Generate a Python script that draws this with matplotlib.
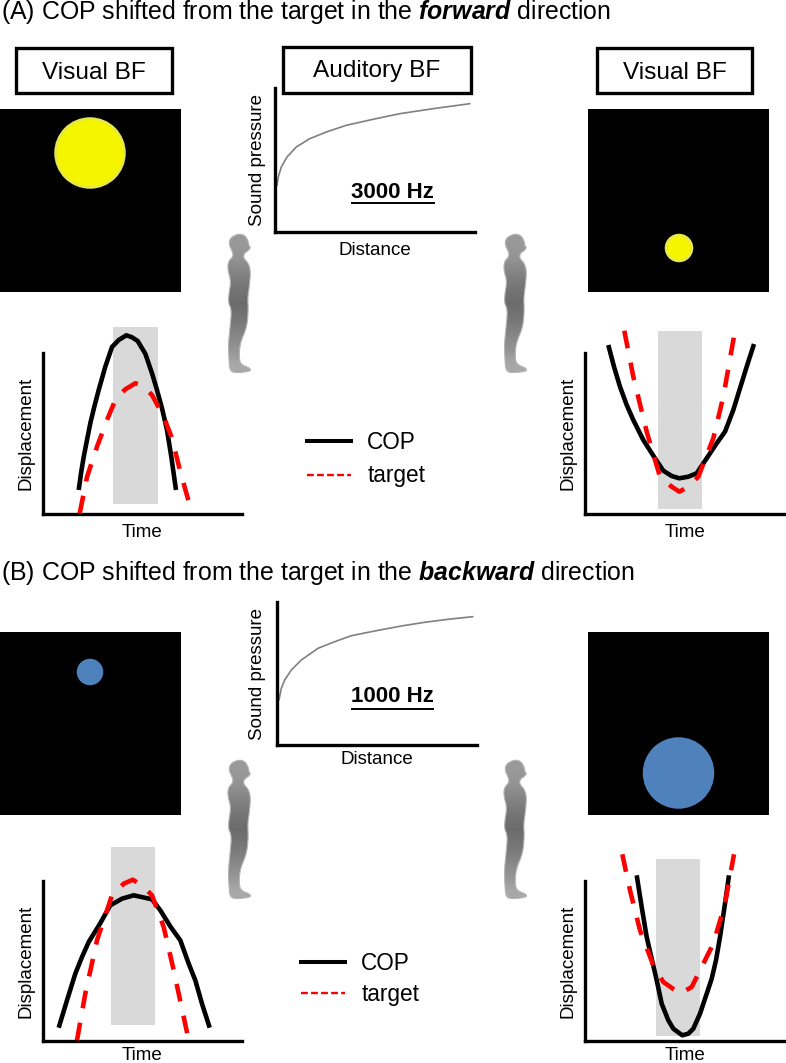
import numpy as np
import matplotlib
matplotlib.use('Agg')
import matplotlib.pyplot as plt
from matplotlib.lines import Line2D
from matplotlib.patches import Circle, PathPatch, Rectangle
from matplotlib.path import Path

plt.rcParams['font.family'] = ['Liberation Sans', 'DejaVu Sans']
plt.rcParams['mathtext.fontset'] = 'custom'
plt.rcParams['mathtext.rm'] = 'Liberation Sans'
plt.rcParams['mathtext.bfit'] = 'Liberation Sans:italic:bold'

W, H = 786, 1063

# displacement panels, values (x = time, y = displacement)
a_left_cop_x = [35.7, 38, 40.7, 44, 47.3, 51.3, 55.7, 62.3, 69, 75.7, 83.3, 89, 94.7, 102.3, 109, 114, 119, 124, 128.3, 133]
a_left_cop_y = [24, 40.7, 57, 74, 90.7, 107.3, 124, 147.3, 167, 174, 178.7, 176.7, 173, 160.3, 140.7, 124, 105.7, 84, 57.3, 24]
a_left_tgt_x = [36.7, 44, 54, 64.7, 72.3, 82.3, 92.3, 99, 109, 120.7, 129, 137.3, 146.7]
a_left_tgt_y = [0.7, 37, 67.3, 95.7, 114, 124.7, 130.7, 129, 119, 97.3, 75.7, 42.3, 9]
a_left_win = [70.3, 114.7, 9.7, 187.3]

a_right_cop_x = [23.3, 29, 35, 41.7, 48.3, 58.3, 70, 78.3, 86.7, 94.3, 103.3, 111.7, 121.7, 131.7, 140, 148.3, 155, 161.7, 169]
a_right_cop_y = [169, 147.3, 127.3, 109, 94, 74, 55.7, 43.3, 38, 35.7, 37.3, 40.7, 55.7, 70.7, 82.3, 104, 125.7, 147.3, 170]
a_right_tgt_x = [39.3, 48.3, 61.7, 75, 86.7, 94.3, 103.3, 113.3, 128.3, 138.3, 150]
a_right_tgt_y = [183.3, 137.3, 82.3, 37.3, 27.3, 22.3, 27.3, 37.3, 75.7, 117.3, 183.3]
a_right_win = [73, 117.3, 5.3, 183.3]

b_left_cop_x = [15.7, 24, 32.3, 39, 45.7, 57, 67.3, 79, 90.7, 109, 117.3, 127.7, 137.3, 145.7, 152.3, 159, 166.7]
b_left_cop_y = [13.3, 40.7, 67.3, 84, 99, 117.3, 135.7, 142.3, 145.7, 141.7, 130.7, 114, 100.7, 77.3, 60.7, 37.3, 13.3]
b_left_tgt_x = [34, 42.3, 54, 69, 80.7, 89.7, 99, 109, 120.7, 130.7, 145.7]
b_left_tgt_y = [0.7, 47.3, 100.7, 145.7, 157.3, 161.3, 155.7, 145.7, 114, 70.7, 0.7]
b_left_win = [67.7, 112, 16.3, 193.7]

b_right_cop_x = [51.7, 56.7, 61.7, 66.7, 71.7, 76.7, 83.3, 88.3, 97.3, 103.3, 108.3, 115, 121.7, 126.7, 131, 135, 140, 144]
b_right_cop_y = [165.7, 134, 104, 82.3, 60.7, 37.3, 20.7, 12.3, 5.7, 7.3, 12.3, 27.3, 47.3, 62.3, 80.7, 104, 137.3, 165.7]
b_right_tgt_x = [37.3, 45, 55, 68.3, 78.3, 95, 106.7, 118.3, 128.3, 140, 149]
b_right_tgt_y = [186.7, 150.7, 110.7, 75.7, 59, 47.3, 54, 77.3, 97.3, 137.3, 186.7]
b_right_win = [71, 115.3, 4.7, 182.3]

# sound pressure against distance
aud_a_x = [2, 3.3, 6.3, 12, 21.3, 34.7, 51.3, 71.3, 98, 124.7, 158, 194.7]
aud_a_y = [46.7, 55, 65, 75, 85, 93.3, 100, 106.7, 112.7, 118.3, 123.3, 128.3]
aud_b_x = [2, 4.3, 7.7, 14.3, 24.3, 41, 57.7, 74.3, 97.7, 124.3, 147.7, 171, 195.7]
aud_b_y = [45, 56.7, 65, 75, 85, 96.7, 103.3, 109.3, 114, 119, 122.7, 125.7, 128.3]

# silhouette outline
body_x = [70, 90, 100, 102, 107, 100, 88, 85, 100, 107, 103, 98, 100, 95, 75, 72, 78, 105,
          108, 60, 45, 42, 40, 45, 50, 40, 42, 48, 38, 40, 55, 52, 42, 45]
body_y = [17, 22, 40, 55, 58, 68, 75, 90, 105, 130, 175, 210, 250, 300, 345, 390, 410, 420,
          430, 435, 428, 400, 350, 300, 245, 225, 195, 160, 125, 100, 85, 70, 50, 30]

fig = plt.figure(figsize=(W / 100, H / 100), dpi=100)


def px_axes(left, top, right, bottom):
    # axes placed by picture pixels, data unit = one pixel
    ax = fig.add_axes([left / W, 1 - bottom / H, (right - left) / W, (bottom - top) / H])
    ax.set_xlim(0, right - left)
    ax.set_ylim(0, bottom - top)
    ax.set_xticks([])
    ax.set_yticks([])
    return ax


def l_frame(ax):
    ax.patch.set_alpha(0)
    ax.spines['top'].set_visible(False)
    ax.spines['right'].set_visible(False)
    ax.spines['left'].set_linewidth(2.4)
    ax.spines['bottom'].set_linewidth(2.4)


def disp_panel(left, top, right, bottom, cop_x, cop_y, tgt_x, tgt_y, win, time_pad=7):
    ax = px_axes(left, top, right, bottom)
    l_frame(ax)
    ax.fill_between(win[:2], win[2], win[3], color='#d9d9d9', lw=0, clip_on=False, zorder=1)
    ax.plot(cop_x, cop_y, color='black', lw=3.3, clip_on=False, zorder=2, solid_capstyle='butt',
            solid_joinstyle='round')
    ax.plot(tgt_x, tgt_y, color='#ff0000', lw=3.3, dashes=(3.9, 3.2), clip_on=False, zorder=3,
            dash_capstyle='butt', dash_joinstyle='round')
    ax.set_xlabel('Time', fontsize=13.5, labelpad=time_pad)
    ax.set_ylabel('Displacement', fontsize=13.5, labelpad=6)
    return ax


def aud_panel(left, top, right, bottom, x, y, freq, text_y, line_x, line_y, pad_x, pad_y):
    ax = px_axes(left, top, right, bottom)
    l_frame(ax)
    ax.plot(x, y, color='#808080', lw=1.2, clip_on=False)
    ax.set_xlabel('Distance', fontsize=13.5, labelpad=pad_x)
    ax.set_ylabel('Sound pressure', fontsize=13.5, labelpad=pad_y)
    ax.text(sum(line_x) / 2, text_y, freq, fontsize=16, fontweight='bold', ha='center', va='center')
    ax.plot(line_x, [line_y, line_y], color='black', lw=1.4)
    return ax


def stim_panel(left, top, right, bottom, cx, cy, r, face, edge):
    ax = px_axes(left, top, right, bottom)
    ax.set_facecolor('black')
    for s in ax.spines.values():
        s.set_visible(False)
    ax.add_patch(Circle((cx, cy), r, facecolor=face, edgecolor=edge, lw=1.8))
    return ax


def title_box(left, top, right, bottom, label, baseline):
    fig.add_artist(Rectangle((left / W, 1 - bottom / H), (right - left) / W, (bottom - top) / H,
                             transform=fig.transFigure, facecolor='white', edgecolor='black', lw=2.4))
    fig.text((left + right) / 2 / W, 1 - baseline / H, label, fontsize=17.6,
             ha='center', va='baseline')


def rounded(verts, passes=3):
    # corner cutting so the outline is not so jagged
    for i in range(passes):
        nxt = np.roll(verts, -1, axis=0)
        verts = np.column_stack([0.75 * verts + 0.25 * nxt, 0.25 * verts + 0.75 * nxt]).reshape(-1, 2)
    return verts


def person(dx, dy):
    # gradient body, zoomed outline coords scaled back to pixels
    x = 215 + np.array(body_x) / 3 + dx
    y = 228 + np.array(body_y) / 3 + dy
    left, right, top, bottom = x.min(), x.max(), y.min(), y.max()
    ax = px_axes(left, top, right, bottom)
    ax.axis('off')
    shade = np.array([0.6, 0.58, 0.52, 0.46, 0.42, 0.46, 0.52, 0.58, 0.66])[:, None]
    im = ax.imshow(shade, cmap='gray', vmin=0, vmax=1, aspect='auto', interpolation='bilinear',
                   extent=[0, right - left, 0, bottom - top])
    verts = rounded(np.column_stack([x - left, bottom - y]))
    patch = PathPatch(Path(np.vstack([verts, verts[:1]]), closed=True), transform=ax.transData,
                      facecolor='none', edgecolor='#b5b5b5', lw=0.8, clip_on=False)
    ax.add_patch(patch)
    im.set_clip_path(patch)


fig.text(1 / W, 1 - 19 / H, r'(A) COP shifted from the target in the $\mathbfit{forward}$ direction',
         fontsize=17.9, va='baseline')
fig.text(1 / W, 1 - 580 / H, r'(B) COP shifted from the target in the $\mathbfit{backward}$ direction',
         fontsize=17.9, va='baseline')

title_box(16, 48, 172, 93, 'Visual BF', 79)
title_box(283, 47, 471, 93, 'Auditory BF', 77)
title_box(597, 48, 752, 93, 'Visual BF', 79)

stim_panel(0, 109, 181, 292, 90, 139, 34.5, '#f5f500', '#e6e650')
stim_panel(588, 109, 769, 292, 91, 44, 13, '#f5f500', '#e6e650')
stim_panel(0, 632, 181, 815, 90, 143, 12, '#4f81bd', '#4f81bd')
stim_panel(588, 632, 769, 815, 90.5, 42, 34.5, '#4f81bd', '#4f81bd')

aud_panel(275, 88, 475, 232, aud_a_x, aud_a_y, '3000 Hz', 39.5, [76.7, 159], 29.3, 7, 6.5)
aud_panel(277, 602, 477, 745, aud_b_x, aud_b_y, '1000 Hz', 48, [75, 156], 36, 4, 8)

disp_panel(43, 353, 242, 514, a_left_cop_x, a_left_cop_y, a_left_tgt_x, a_left_tgt_y, a_left_win)
disp_panel(585, 353, 785, 514, a_right_cop_x, a_right_cop_y, a_right_tgt_x, a_right_tgt_y, a_right_win)
disp_panel(43, 881, 242, 1041, b_left_cop_x, b_left_cop_y, b_left_tgt_x, b_left_tgt_y, b_left_win, time_pad=4.5)
disp_panel(585, 881, 785, 1041, b_right_cop_x, b_right_cop_y, b_right_tgt_x, b_right_tgt_y, b_right_win, time_pad=4.5)

person(0, 0)
person(276, 0)
person(0, 526)
person(276, 526)

handles = [Line2D([], [], color='black', lw=2.9),
           Line2D([], [], color='#ff0000', lw=1.7, dashes=(2.9, 1.35))]
for lx, ly, gap in [(300, 424, 0.47), (294, 945, 0.35)]:
    fig.legend(handles, ['COP', 'target'], loc='upper left', bbox_to_anchor=(lx / W, 1 - ly / H),
               frameon=False, fontsize=16.3, handlelength=1.95, handletextpad=0.72, labelspacing=gap,
               borderpad=0.3, borderaxespad=0)

fig.savefig('out.png', dpi=100)
